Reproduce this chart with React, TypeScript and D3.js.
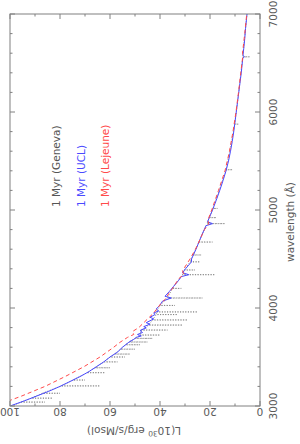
import React, { useEffect, useRef } from 'react';
import * as d3 from 'd3';

// wavelength (A), luminosity (1e30 erg/s/Msol)
const ucl: [number, number][] = [
  [3000, 100], [3050, 94.5], [3100, 89.5], [3150, 84.5], [3200, 80], [3250, 76],
  [3300, 72], [3350, 68.5], [3400, 65.5], [3450, 62.5], [3500, 60], [3550, 57],
  [3600, 55], [3650, 52.5], [3680, 50.5], [3700, 49.5], [3715, 47.5], [3730, 49],
  [3750, 47], [3770, 48], [3797, 45.5], [3810, 46.5], [3835, 44], [3850, 45.5],
  [3889, 42.5], [3905, 44], [3933, 42], [3950, 42.5], [3970, 40.5], [3990, 41.5],
  [4030, 40], [4070, 39], [4102, 35.5], [4120, 38], [4170, 36.2], [4220, 34.6],
  [4280, 32.6], [4320, 31.5], [4340, 28.5], [4360, 31], [4400, 29.8], [4471, 27.4],
  [4500, 27.4], [4550, 26.5], [4600, 25.6], [4650, 24.8], [4700, 24], [4750, 23.2],
  [4800, 22.3], [4840, 21.6], [4861, 19], [4880, 21], [4920, 20.3], [5000, 19],
  [5100, 17.5], [5200, 16.1], [5300, 14.8], [5400, 13.6], [5500, 12.6], [5600, 11.8],
  [5700, 11.1], [5800, 10.5], [5900, 10], [6000, 9.5], [6100, 9], [6200, 8.5],
  [6300, 8], [6400, 7.5], [6500, 7.1], [6545, 6.9], [6563, 6.3], [6580, 6.8],
  [6650, 6.5], [6750, 6.1], [6850, 5.8], [6950, 5.4], [7000, 5.2],
];

const lejeune: [number, number][] = [
  [3000, 106], [3100, 95.5], [3200, 86], [3300, 78], [3400, 70.5], [3500, 64],
  [3600, 58.5], [3650, 56], [3700, 53], [3730, 50.5], [3760, 51], [3800, 48.5],
  [3850, 46.5], [3900, 44.5], [3950, 42.5], [4000, 41], [4050, 39.5], [4100, 37.5],
  [4150, 36.5], [4200, 35], [4300, 32.5], [4340, 30.5], [4380, 31], [4400, 30.5],
  [4500, 28], [4600, 25.8], [4700, 24], [4800, 22.2], [4860, 20.5], [4900, 20.8],
  [5000, 19.3], [5200, 16.6], [5400, 14], [5600, 12.2], [5800, 10.8], [6000, 9.6],
  [6200, 8.6], [6400, 7.7], [6563, 6.9], [6600, 7], [6800, 6.1], [7000, 5.3],
];

const geneva: [number, number][] = [
  [3000, 99.5], [3039, 95.5], [3040, 86], [3041, 95.5], [3079, 91.5], [3080, 83],
  [3081, 91.5], [3129, 87], [3130, 80], [3131, 87], [3204, 79.5], [3205, 64],
  [3206, 79.5], [3264, 74.8], [3265, 70], [3266, 74.8], [3339, 69.2], [3340, 62],
  [3341, 69.2], [3389, 66], [3390, 60], [3391, 66], [3449, 62.5], [3450, 57],
  [3451, 62.5], [3499, 60], [3500, 54], [3501, 60], [3529, 58.2], [3530, 52],
  [3531, 58.2], [3579, 55.8], [3580, 50], [3581, 55.8], [3624, 53.8], [3625, 48],
  [3626, 53.8], [3652, 52.4], [3653, 45], [3654, 52.4], [3689, 50], [3690, 43],
  [3691, 50], [3723, 48], [3724, 40], [3725, 48], [3774, 47.5], [3775, 37],
  [3776, 47.5], [3825, 44.5], [3826, 31], [3827, 44.5], [3877, 43], [3878, 29],
  [3879, 43], [3932, 41.5], [3933, 33], [3934, 41.5], [3959, 41.5], [3960, 25],
  [3961, 41.5], [4025, 40], [4026, 34], [4027, 40], [4101, 37], [4102, 23],
  [4103, 37], [4199, 35], [4200, 31.5], [4201, 35], [4339, 31], [4340, 18],
  [4341, 31], [4387, 30.2], [4388, 26], [4389, 30.2], [4470, 28], [4471, 24],
  [4472, 28], [4540, 26.7], [4541, 23.5], [4542, 26.7], [4672, 24.4], [4673, 19],
  [4674, 24.4], [4860, 21.2], [4861, 14], [4862, 21.2], [4921, 20.3], [4922, 17.5],
  [4923, 20.3], [5015, 18.8], [5016, 17], [5017, 18.8], [5410, 13.5], [5411, 11],
  [5412, 13.5], [5875, 10.1], [5876, 8.5], [5877, 10.1], [6200, 8.5], [6562, 6.9],
  [6563, 4], [6564, 6.9], [7000, 5.2],
];

const lumLabels = [0, 20, 40, 60, 80, 100];
const lumMinor = [10, 30, 50, 70, 90];
const waveLabels = [3000, 4000, 5000, 6000, 7000];
const waveMinor = [
  3200, 3400, 3600, 3800, 4200, 4400, 4600, 4800, 5200, 5400, 5600, 5800, 6200,
  6400, 6600, 6800,
];

const legend = [
  { text: '1 Myr (Geneva)', color: '#555555', x: 60 },
  { text: '1 Myr (UCL)', color: '#4a4aff', x: 85 },
  { text: '1 Myr (Lejeune)', color: '#ff4a4a', x: 109 },
];

export default function App() {
  const ref = useRef<SVGSVGElement>(null);

  useEffect(() => {
    if (!ref.current) return;
    const svg = d3.select(ref.current);
    svg.selectAll('*').remove();

    const left = 10, right = 260, top = 14, bottom = 406;
    const axisColor = '#808080';
    const textColor = '#5a5a5a';

    const x = d3.scaleLinear().domain([0, 100]).range([right, left]);
    const y = d3.scaleLinear().domain([3000, 7000]).range([bottom, top]);

    svg
      .append('defs')
      .append('clipPath')
      .attr('id', 'plot-area')
      .append('rect')
      .attr('x', left)
      .attr('y', top)
      .attr('width', right - left)
      .attr('height', bottom - top);

    const line = d3
      .line<[number, number]>()
      .x((d) => x(d[1]))
      .y((d) => y(d[0]));

    const plot = svg.append('g').attr('clip-path', 'url(#plot-area)');

    plot
      .append('path')
      .datum(geneva)
      .attr('fill', 'none')
      .attr('stroke', '#777')
      .attr('stroke-width', 0.8)
      .attr('stroke-dasharray', '1 1.6')
      .attr('d', line);

    plot
      .append('path')
      .datum(ucl)
      .attr('fill', 'none')
      .attr('stroke', '#4a4aff')
      .attr('stroke-width', 1)
      .attr('d', line);

    plot
      .append('path')
      .datum(lejeune)
      .attr('fill', 'none')
      .attr('stroke', '#ff4a4a')
      .attr('stroke-width', 1)
      .attr('stroke-dasharray', '4 3')
      .attr('d', line);

    // frame
    svg
      .append('rect')
      .attr('x', left)
      .attr('y', top)
      .attr('width', right - left)
      .attr('height', bottom - top)
      .attr('fill', 'none')
      .attr('stroke', axisColor)
      .attr('stroke-width', 1);

    const ticks = svg.append('g').attr('stroke', axisColor).attr('stroke-width', 1);

    const lumTick = (v: number, len: number) => {
      ticks.append('line').attr('x1', x(v)).attr('x2', x(v)).attr('y1', bottom).attr('y2', bottom - len);
      ticks.append('line').attr('x1', x(v)).attr('x2', x(v)).attr('y1', top).attr('y2', top + len);
    };
    lumLabels.forEach((v) => lumTick(v, 5));
    lumMinor.forEach((v) => lumTick(v, 2.5));

    const waveTick = (v: number, len: number) => {
      ticks.append('line').attr('y1', y(v)).attr('y2', y(v)).attr('x1', right).attr('x2', right - len);
      ticks.append('line').attr('y1', y(v)).attr('y2', y(v)).attr('x1', left).attr('x2', left + len);
    };
    waveLabels.forEach((v) => waveTick(v, 5));
    waveMinor.forEach((v) => waveTick(v, 2.5));

    const labels = svg
      .append('g')
      .attr('font-family', 'DejaVu Sans')
      .attr('font-size', 10.5)
      .attr('fill', textColor);

    // luminosity tick labels are upside down
    lumLabels.forEach((v) => {
      labels
        .append('text')
        .attr('x', x(v))
        .attr('y', 408)
        .attr('text-anchor', 'middle')
        .attr('transform', `rotate(180,${x(v)},408)`)
        .text(v);
    });

    const title = labels
      .append('text')
      .attr('x', 134)
      .attr('y', 427)
      .attr('text-anchor', 'middle')
      .attr('transform', 'rotate(180,134,427)');
    title.append('tspan').text('L(10');
    title.append('tspan').attr('dy', -4).attr('font-size', 7.5).text('30');
    title.append('tspan').attr('dy', 4).text(' erg/s/Msol)');

    waveLabels.forEach((v) => {
      labels
        .append('text')
        .attr('x', 277)
        .attr('y', y(v))
        .attr('text-anchor', 'middle')
        .attr('transform', `rotate(-90,277,${y(v)})`)
        .text(v);
    });

    labels
      .append('text')
      .attr('x', 294)
      .attr('y', 222)
      .attr('text-anchor', 'middle')
      .attr('transform', 'rotate(-90,294,222)')
      .text('wavelength (Å)');

    legend.forEach((d) => {
      labels
        .append('text')
        .attr('x', d.x)
        .attr('y', 207)
        .attr('fill', d.color)
        .attr('transform', `rotate(-90,${d.x},207)`)
        .text(d.text);
    });
  }, []);

  return (
    <svg
      ref={ref}
      width={300}
      height={444}
      style={{ position: 'absolute', left: 0, top: 0, background: '#fff' }}
    />
  );
}
